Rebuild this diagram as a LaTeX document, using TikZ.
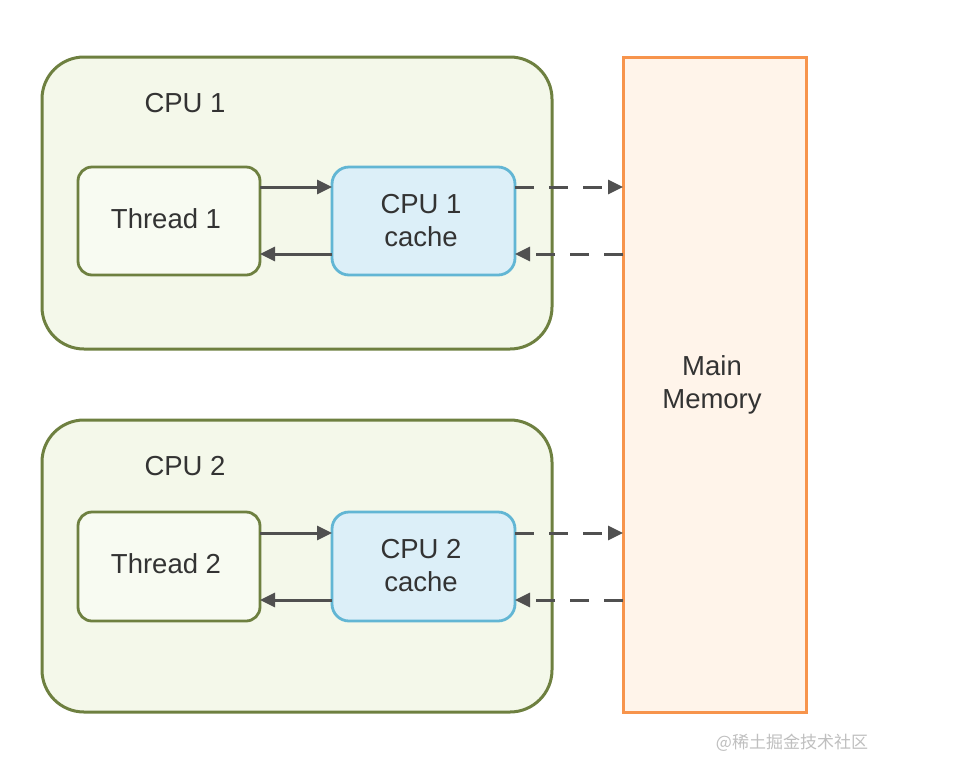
\documentclass[tikz,border=0pt]{standalone}
\usepackage{fontspec}
\setmainfont{Liberation Sans}
\newfontfamily\cjk{Noto Sans CJK SC}
\usetikzlibrary{arrows.meta}
\definecolor{cpufill}{HTML}{F4F8EA}
\definecolor{cpuline}{HTML}{6E8040}
\definecolor{cachefill}{HTML}{DCEFF8}
\definecolor{cacheline}{HTML}{62B6D4}
\definecolor{memfill}{HTML}{FFF4EA}
\definecolor{memline}{HTML}{F7944C}
\definecolor{arr}{HTML}{505050}
\begin{document}
\begin{tikzpicture}[x=1pt,y=-1pt,
  cpubox/.style={draw=cpuline,fill=cpufill,line width=3pt,rounded corners=42pt},
  threadbox/.style={draw=cpuline,fill=cpufill!60!white,line width=2.8pt,rounded corners=14pt},
  cachebox/.style={draw=cacheline,fill=cachefill,line width=2.8pt,rounded corners=17pt},
  membox/.style={draw=memline,fill=memfill,line width=3pt},
  lbl/.style={font=\fontsize{27.5}{33}\selectfont,text=black!80,align=center},
  solidarr/.style={draw=arr,line width=3pt,-{Triangle[length=15pt,width=14pt]}},
  dasharr/.style={draw=arr,line width=3pt,dash pattern=on 19pt off 15pt,-{Triangle[length=15pt,width=14pt]}}
]
\useasboundingbox (0,0) rectangle (974,780);
\fill[white] (0,0) rectangle (974,780);

% CPU 1
\draw[cpubox] (42,57) rectangle (552,349);
\node[lbl] (cpu1) at (185,103) {CPU 1};
\draw[threadbox] (78,167) rectangle (260,275);
\node[lbl] (t1) at (166,219) {Thread 1};
\draw[cachebox] (332,167) rectangle (515,275);
\node[lbl] (c1) at (421,221) {CPU 1\\cache};
\coordinate (t1a) at (260,187);
\coordinate (t1b) at (260,254);
\coordinate (c1a) at (332,187);
\coordinate (c1b) at (332,254);
\coordinate (c1c) at (515,187);
\coordinate (c1d) at (515,254);

% CPU 2
\draw[cpubox] (42,420) rectangle (552,712);
\node[lbl] (cpu2) at (185,466) {CPU 2};
\draw[threadbox] (78,512) rectangle (260,621);
\node[lbl] (t2) at (166,564) {Thread 2};
\draw[cachebox] (332,512) rectangle (515,621);
\node[lbl] (c2) at (421,566) {CPU 2\\cache};
\coordinate (t2a) at (260,533);
\coordinate (t2b) at (260,600);
\coordinate (c2a) at (332,533);
\coordinate (c2b) at (332,600);
\coordinate (c2c) at (515,533);
\coordinate (c2d) at (515,600);

% Main memory
\draw[membox] (623,57) rectangle (806,712);
\node[lbl] (mem) at (712,385) {Main\\Memory};
\coordinate (m1) at (623,187);
\coordinate (m2) at (623,254);
\coordinate (m3) at (623,533);
\coordinate (m4) at (623,600);

% arrows
\draw[solidarr] (t1a) -- (c1a);
\draw[solidarr] (c1b) -- (t1b);
\draw[dasharr] (c1c) -- (m1);
\draw[dasharr] (m2) -- (c1d);
\draw[solidarr] (t2a) -- (c2a);
\draw[solidarr] (c2b) -- (t2b);
\draw[dasharr] (c2c) -- (m3);
\draw[dasharr] (m4) -- (c2d);

\node[font=\cjk\fontsize{17}{20}\selectfont,text=black!25] (wm) at (792,743) {@稀土掘金技术社区};
\end{tikzpicture}
\end{document}
